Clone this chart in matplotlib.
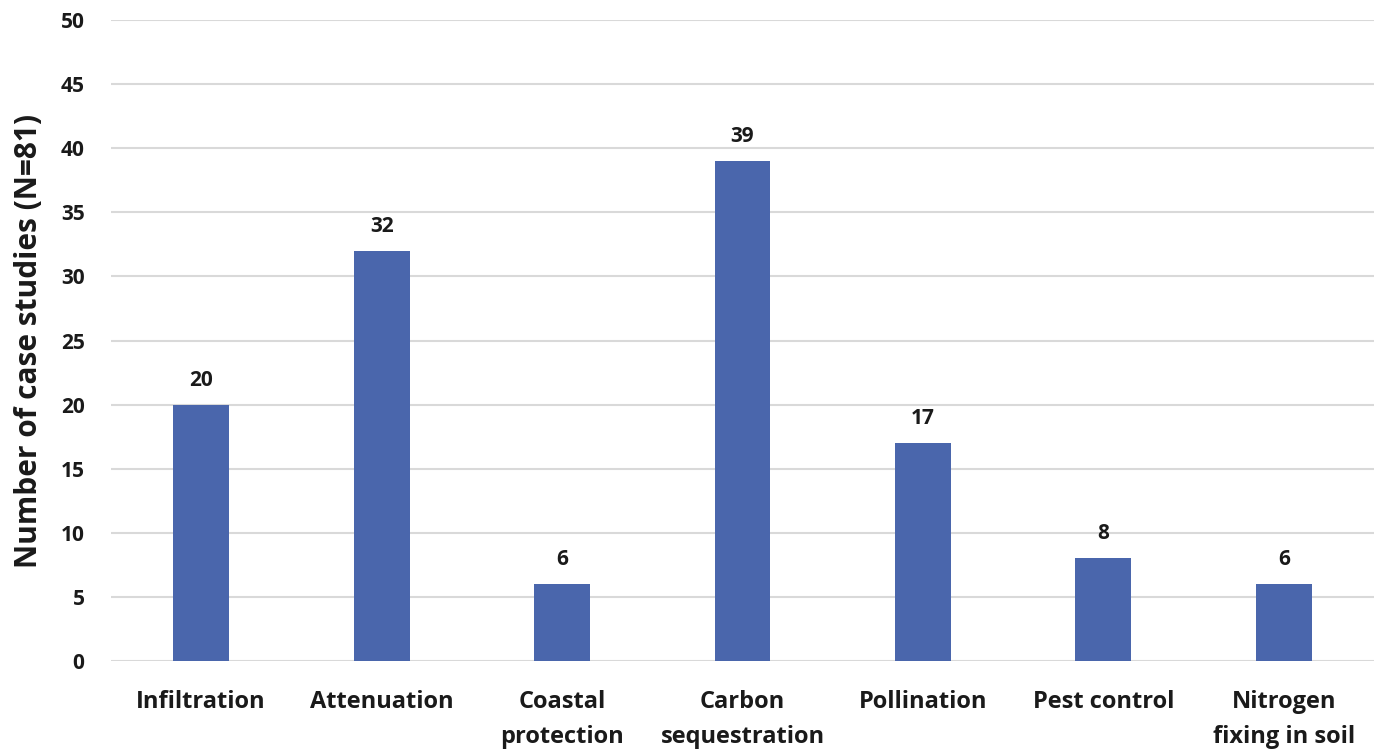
import matplotlib.pyplot as plt
import numpy as np

plt.rcParams['font.family'] = ['Open Sans', 'DejaVu Sans']
plt.rcParams['font.weight'] = 'bold'

categories = ['Infiltration', 'Attenuation', 'Coastal\nprotection', 'Carbon\nsequestration',
              'Pollination', 'Pest control', 'Nitrogen\nfixing in soil']
counts = [20, 32, 6, 39, 17, 8, 6]
y_ticks = [0, 5, 10, 15, 20, 25, 30, 35, 40, 45, 50]

fig = plt.figure(figsize=(13.85, 7.53), dpi=100)
ax = fig.add_axes([0.0801, 0.1222, 0.912, 0.8512])

x = np.arange(len(categories))
bars = ax.bar(x, counts, width=0.31, color='#4a66ac', zorder=3)

# value labels above each bar
for xi, v in zip(x, counts):
    ax.text(xi, v + 1.1, str(v), ha='center', va='bottom', fontsize=15,
            fontweight='bold', color='#1a1a1a')

ax.set_xlim(-0.5, len(categories) - 0.5)
ax.set_ylim(0, 50)
ax.set_yticks(y_ticks)
ax.set_yticklabels([str(t) for t in y_ticks], fontsize=15, fontweight='bold', color='#1a1a1a')
ax.set_xticks(x)
ax.set_xticklabels(categories, fontsize=17, fontweight='bold', color='#1a1a1a', linespacing=1.6)
ax.tick_params(axis='both', length=0)
ax.tick_params(axis='x', pad=21)
ax.tick_params(axis='y', pad=19)

ax.yaxis.grid(True, color='#d9d9d9', linewidth=1.5, zorder=0)
for s in ax.spines.values():
    s.set_visible(False)

ax.set_ylabel('Number of case studies (N=81)', fontsize=21.5, fontweight='bold',
              color='#1a1a1a', labelpad=12)

fig.savefig('out.png', dpi=100)
